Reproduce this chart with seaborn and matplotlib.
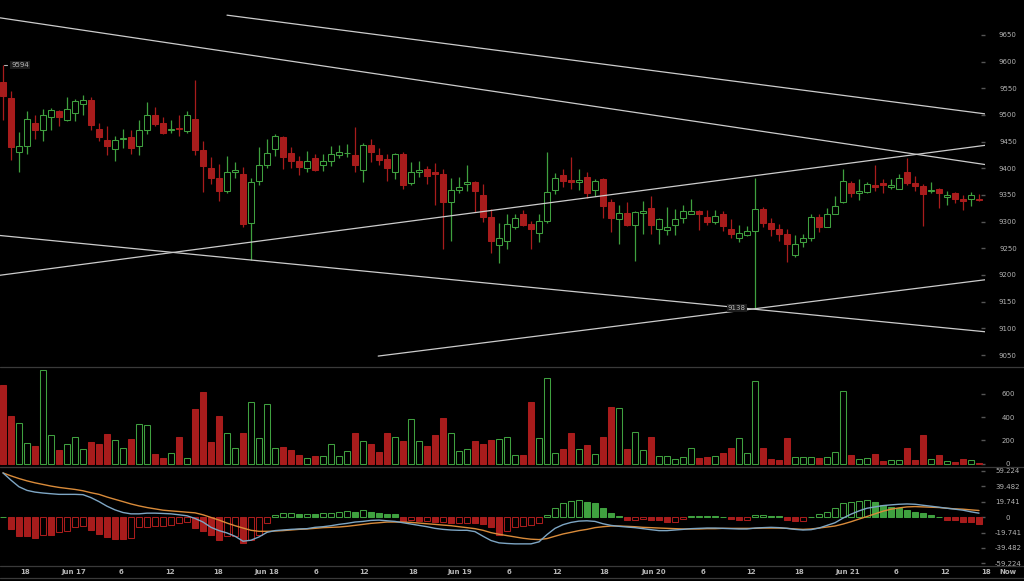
import numpy as np
import pandas as pd
import matplotlib
matplotlib.use("Agg")
import matplotlib.pyplot as plt
from matplotlib.lines import Line2D
from matplotlib.transforms import blended_transform_factory
import seaborn as sns

# hourly candles, Jun 16 15:00 -> Jun 21 17:00
opens = [9561, 9532, 9430, 9442, 9485, 9471, 9496, 9508, 9491, 9504,
         9520, 9528, 9474, 9453, 9437, 9455, 9459, 9441, 9471, 9499,
         9484, 9471, 9476, 9469, 9493, 9435, 9400, 9381, 9358, 9393,
         9390, 9298, 9376, 9406, 9437, 9459, 9428, 9413, 9400, 9419,
         9406, 9413, 9425, 9428, 9424, 9396, 9444, 9424, 9418, 9393,
         9426, 9372, 9393, 9398, 9393, 9390, 9337, 9359, 9371, 9374,
         9350, 9308, 9256, 9264, 9289, 9314, 9295, 9279, 9301, 9359,
         9388, 9378, 9374, 9383, 9359, 9380, 9337, 9304, 9317, 9293,
         9316, 9326, 9287, 9285, 9293, 9306, 9315, 9319, 9309, 9300,
         9314, 9287, 9270, 9274, 9282, 9323, 9297, 9287, 9277, 9237,
         9261, 9269, 9308, 9290, 9315, 9337, 9373, 9354, 9356, 9369,
         9372, 9365, 9362, 9393, 9372, 9367, 9357, 9362, 9347, 9354,
         9342, 9343, 9343]
highs = [9594, 9545, 9468, 9507, 9500, 9511, 9513, 9510, 9533, 9530,
         9538, 9534, 9484, 9480, 9461, 9474, 9472, 9491, 9525, 9514,
         9497, 9491, 9500, 9507, 9566, 9452, 9421, 9408, 9423, 9412,
         9402, 9382, 9439, 9454, 9464, 9461, 9439, 9423, 9433, 9426,
         9426, 9441, 9444, 9446, 9477, 9447, 9454, 9438, 9427, 9428,
         9430, 9412, 9414, 9405, 9410, 9399, 9382, 9383, 9407, 9376,
         9370, 9324, 9298, 9315, 9314, 9322, 9301, 9314, 9430, 9391,
         9398, 9421, 9398, 9393, 9380, 9382, 9343, 9332, 9337, 9320,
         9338, 9348, 9307, 9328, 9323, 9332, 9343, 9322, 9322, 9322,
         9320, 9304, 9293, 9291, 9382, 9328, 9307, 9295, 9286, 9275,
         9276, 9314, 9315, 9326, 9348, 9398, 9376, 9380, 9375, 9407,
         9379, 9379, 9390, 9420, 9385, 9370, 9374, 9363, 9357, 9356,
         9349, 9356, 9351]
lows = [9491, 9416, 9393, 9426, 9454, 9451, 9472, 9479, 9488, 9488,
        9500, 9472, 9451, 9424, 9413, 9438, 9426, 9424, 9465, 9479,
        9465, 9467, 9460, 9467, 9424, 9356, 9371, 9338, 9354, 9382,
        9290, 9229, 9368, 9401, 9423, 9399, 9401, 9388, 9393, 9394,
        9394, 9404, 9419, 9421, 9393, 9374, 9412, 9407, 9377, 9380,
        9362, 9368, 9384, 9371, 9331, 9248, 9264, 9354, 9357, 9318,
        9300, 9242, 9223, 9248, 9286, 9292, 9248, 9261, 9298, 9351,
        9365, 9362, 9360, 9345, 9348, 9307, 9280, 9259, 9292, 9226,
        9276, 9276, 9259, 9274, 9274, 9298, 9314, 9285, 9294, 9296,
        9282, 9270, 9261, 9273, 9138, 9290, 9273, 9264, 9224, 9234,
        9253, 9264, 9280, 9289, 9314, 9335, 9347, 9340, 9354, 9357,
        9354, 9362, 9362, 9368, 9357, 9292, 9353, 9325, 9331, 9335,
        9322, 9330, 9338]
closes = [9535, 9439, 9442, 9492, 9471, 9499, 9510, 9497, 9511, 9527,
          9528, 9481, 9459, 9441, 9453, 9457, 9438, 9472, 9499, 9483,
          9467, 9473, 9474, 9499, 9434, 9404, 9382, 9358, 9393, 9396,
          9295, 9375, 9406, 9428, 9460, 9421, 9413, 9402, 9414, 9396,
          9414, 9426, 9431, 9429, 9406, 9444, 9430, 9416, 9401, 9426,
          9368, 9393, 9396, 9385, 9390, 9337, 9360, 9365, 9374, 9357,
          9309, 9264, 9269, 9295, 9307, 9294, 9287, 9301, 9355, 9381,
          9376, 9374, 9378, 9353, 9376, 9330, 9307, 9317, 9293, 9318,
          9320, 9293, 9304, 9289, 9304, 9319, 9319, 9314, 9300, 9310,
          9292, 9277, 9278, 9282, 9323, 9297, 9287, 9276, 9259, 9259,
          9269, 9308, 9290, 9315, 9330, 9376, 9354, 9358, 9371, 9365,
          9369, 9368, 9382, 9373, 9367, 9352, 9359, 9353, 9349, 9342,
          9338, 9349, 9340]
volumes = [679, 406, 348, 180, 154, 803, 247, 116, 171, 229,
           125, 183, 171, 255, 203, 133, 209, 339, 331, 87,
           52, 90, 232, 49, 467, 615, 183, 409, 264, 139,
           261, 534, 220, 516, 139, 142, 119, 78, 49, 70,
           70, 165, 67, 113, 267, 194, 171, 104, 261, 226,
           191, 383, 194, 148, 249, 392, 264, 113, 128, 191,
           165, 206, 209, 226, 73, 73, 528, 223, 740, 90,
           122, 267, 128, 162, 81, 226, 487, 481, 128, 270,
           119, 232, 70, 70, 44, 55, 139, 52, 58, 64,
           90, 136, 220, 90, 710, 139, 41, 32, 217, 55,
           55, 55, 46, 61, 99, 626, 73, 44, 46, 84,
           20, 32, 35, 131, 32, 247, 44, 73, 23, 17,
           44, 32, 9]
macd_dif = [56.7, 47.4, 38.9, 34.3, 32.1, 30.9, 30.0, 29.2, 29.2, 29.2,
            28.8, 25.0, 19.9, 14.0, 9.3, 5.9, 4.2, 4.2, 5.1, 5.1,
            4.7, 4.2, 3.0, 1.7, -1.7, -6.3, -13.1, -17.3, -20.3, -24.5,
            -30.9, -29.6, -25.4, -19.5, -17.3, -16.5, -15.7, -15.2, -14.8, -13.1,
            -12.3, -11.0, -9.3, -8.0, -6.3, -5.5, -4.2, -3.8, -4.7, -5.5,
            -7.2, -8.9, -10.6, -12.3, -14.4, -15.7, -16.5, -16.9, -16.9, -18.6,
            -24.5, -30.0, -33.0, -33.8, -34.3, -34.3, -34.3, -31.7, -22.4, -14.4,
            -9.7, -6.8, -5.1, -4.7, -5.5, -8.5, -10.6, -11.8, -12.7, -13.5,
            -14.8, -16.1, -17.3, -17.3, -16.5, -15.7, -14.8, -14.4, -14.0, -14.0,
            -14.4, -14.8, -15.2, -15.2, -14.0, -13.5, -13.1, -13.5, -14.4, -15.7,
            -16.5, -16.1, -14.0, -10.6, -7.2, -1.3, 3.8, 8.0, 11.4, 13.1,
            14.8, 15.7, 16.5, 16.9, 16.5, 15.2, 14.0, 12.7, 11.4, 10.2,
            8.9, 6.8, 5.1]
macd_dea = [56.7, 52.9, 49.5, 46.5, 44.0, 41.9, 39.8, 38.1, 36.8, 35.5,
            33.8, 31.3, 29.2, 25.8, 22.8, 19.9, 16.9, 14.4, 12.3, 10.6,
            8.9, 8.0, 7.2, 6.3, 5.5, 3.0, -0.4, -3.8, -7.6, -11.0,
            -14.0, -16.9, -18.2, -18.2, -17.8, -17.3, -16.5, -15.7, -15.2, -14.4,
            -13.5, -13.1, -12.7, -11.8, -10.6, -9.3, -8.0, -7.2, -6.3, -6.3,
            -6.3, -6.8, -7.6, -8.5, -9.3, -10.2, -11.0, -12.3, -13.5, -14.8,
            -16.9, -19.9, -22.0, -23.7, -25.4, -27.1, -28.3, -28.8, -27.5, -24.5,
            -21.6, -19.5, -17.3, -15.7, -13.5, -12.3, -11.4, -11.4, -11.8, -12.3,
            -13.1, -13.5, -14.0, -14.4, -14.8, -15.2, -15.2, -15.2, -14.8, -14.8,
            -14.4, -14.4, -14.4, -14.4, -14.4, -14.0, -14.0, -14.0, -14.4, -15.2,
            -15.7, -15.2, -14.0, -12.7, -11.4, -8.9, -5.9, -2.5, 0.8, 4.2,
            7.6, 10.2, 11.8, 13.1, 13.5, 13.1, 12.7, 12.3, 11.4, 10.6,
            10.2, 9.3, 8.5]
macd_hist = [0.8, -15.2, -24.5, -24.5, -26.6, -22.4, -22.4, -19.5, -18.2, -13.1,
             -11.0, -16.1, -21.2, -25.8, -27.5, -28.0, -27.0, -13.1, -12.9, -11.8,
             -11.0, -9.7, -7.6, -6.3, -14.0, -18.2, -22.4, -28.8, -24.5, -24.3,
             -33.0, -28.8, -22.4, -7.6, 3.0, 4.7, 5.5, 4.2, 4.3, 4.2,
             4.7, 5.9, 7.2, 8.0, 7.2, 8.9, 7.2, 5.1, 4.2, 3.4,
             -4.7, -4.2, -5.5, -5.4, -6.3, -6.2, -7.6, -7.5, -7.4, -7.6,
             -8.9, -13.1, -22.4, -17.3, -13.1, -11.0, -9.7, -7.6, 3.0, 11.4,
             17.8, 20.7, 22.0, 19.0, 18.6, 11.4, 5.1, 1.7, -3.4, -3.3,
             -2.5, -3.4, -4.2, -6.3, -6.2, -2.1, 1.7, 2.0, 2.0, 1.9,
             0.8, -3.0, -3.4, -3.3, 2.1, 2.2, 1.7, 0.9, -3.4, -5.5,
             -4.7, 0.5, 3.8, 6.3, 12.3, 18.6, 19.9, 20.7, 22.0, 19.9,
             15.7, 13.5, 11.4, 9.3, 7.2, 4.7, 3.0, 0.8, -3.4, -4.2,
             -6.3, -6.8, -8.5]

price_ticks = [9050, 9100, 9150, 9200, 9250, 9300, 9350, 9400, 9450, 9500, 9550, 9600, 9650]
vol_ticks = [0, 200, 400, 600]
macd_ticks = [-59.224, -39.482, -19.741, 0, 19.741, 39.482, 59.224]
time_labels = ["18", "Jun 17", "6", "12", "18", "Jun 18", "6", "12", "18", "Jun 19", "6",
               "12", "18", "Jun 20", "6", "12", "18", "Jun 21", "6", "12", "18", "Now"]
time_pos = [2.75, 8.9, 14.75, 20.9, 26.9, 33.0, 39.1, 45.1, 51.25, 57.1, 63.25,
            69.25, 75.1, 81.4, 87.5, 93.5, 99.5, 105.6, 111.6, 117.75, 122.9, 125.6]

# hand drawn trend lines (candle index, price)
trend_lines = [
    ((28.0, 9687), (122.75, 9502)),
    ((-0.375, 9682), (122.75, 9407)),
    ((-0.375, 9199.5), (122.75, 9443)),
    ((-0.375, 9274), (122.75, 9093.6)),
    ((46.9, 9048), (122.75, 9191)),
]

BG = "#000000"
RED = "#a81c1c"
GREEN = "#3fa03f"
TXT = "#b4b4b4"
TICK = "#555555"
SEP = "#3a3a3a"
TREND = "#cccccc"
DIF_C = "#7ea6c4"
DEA_C = "#d98b3a"

sns.set_theme(style="dark", rc={"axes.facecolor": BG, "figure.facecolor": BG})
plt.rcParams["font.family"] = ["DejaVu Sans"]

W, H = 1024, 581
PLOT_R = 985
fig = plt.figure(figsize=(W / 100, H / 100), dpi=100)
fig.patch.set_facecolor(BG)


def panel(top, bottom):
    ax = fig.add_axes([0, 1 - bottom / H, PLOT_R / W, (bottom - top) / H])
    ax.set_facecolor(BG)
    for s in ax.spines.values():
        s.set_visible(False)
    ax.grid(False)
    ax.set_xlim(-0.375, 122.75)
    ax.set_xticks([])
    ax.yaxis.tick_right()
    ax.tick_params(axis="y", direction="in", length=3, width=1, color=TICK,
                   labelcolor=TXT, labelsize=5, pad=16.5)
    return ax


ax_p = panel(0, 366)
ax_v = panel(368, 466)
ax_m = panel(468, 565)

idx = np.arange(len(opens))
o = np.array(opens, dtype=float)
h = np.array(highs, dtype=float)
l = np.array(lows, dtype=float)
c = np.array(closes, dtype=float)
up = c >= o
line_col = np.where(up, GREEN, RED).tolist()
fill_col = np.where(up, BG, RED).tolist()

# 1. price candles
ax_p.vlines(idx, l, h, colors=line_col, linewidth=0.9, zorder=2)
ax_p.bar(idx, np.maximum(np.abs(c - o), 1.5), bottom=np.minimum(o, c), width=0.78,
         color=fill_col, edgecolor=line_col, linewidth=0.75, zorder=3)
for (x0, y0), (x1, y1) in trend_lines:
    ax_p.plot([x0, x1], [y0, y1], color=TREND, linewidth=0.9, zorder=4)

hi_i = int(np.argmax(h))
lo_i = int(np.argmin(l))
ax_p.plot([hi_i + 0.1, hi_i + 0.5], [h[hi_i]] * 2, color=TXT, linewidth=0.8)
ax_p.annotate(f"{h[hi_i]:.0f}", xy=(hi_i, h[hi_i]), xytext=(5.8, 0), textcoords="offset points",
              ha="left", va="center", fontsize=5, color=TXT,
              bbox=dict(facecolor="#1c1c1c", edgecolor="none", pad=0.6))
ax_p.annotate(f"{l[lo_i]:.0f}", xy=(lo_i, l[lo_i]), xytext=(-6.5, 0), textcoords="offset points",
              ha="right", va="center", fontsize=5, color=TXT, zorder=5,
              bbox=dict(facecolor="#1c1c1c", edgecolor="none", pad=0.6))
ax_p.set_ylim(9029.4, 9715.4)
ax_p.set_yticks(price_ticks)
ax_p.set_yticklabels([str(t) for t in price_ticks], ha="center")

# 2. volume
ax_v.bar(idx, volumes, width=0.78, color=fill_col, edgecolor=line_col, linewidth=0.75)
ax_v.set_ylim(-20, 823)
ax_v.set_yticks(vol_ticks)
ax_v.set_yticklabels([str(t) for t in vol_ticks], ha="center")

# 3. MACD
hist = np.array(macd_hist)
prev = np.r_[hist[0] - 1, hist[:-1]]
h_col = np.where(hist >= 0, GREEN, RED)
h_fill = np.where(hist > prev, BG, h_col)
ax_m.bar(idx, hist, width=0.78, color=h_fill.tolist(), edgecolor=h_col.tolist(), linewidth=0.75)
macd_df = pd.DataFrame({"idx": idx, "dif": macd_dif, "dea": macd_dea})
sns.lineplot(data=macd_df, x="idx", y="dea", ax=ax_m, color=DEA_C, linewidth=1.0)
sns.lineplot(data=macd_df, x="idx", y="dif", ax=ax_m, color=DIF_C, linewidth=1.0)
ax_m.set_xlabel("")
ax_m.set_ylabel("")
ax_m.set_xlim(-0.375, 122.75)
ax_m.set_xticks([])
ax_m.set_ylim(-61.4, 63.0)
ax_m.set_yticks(macd_ticks)
ax_m.set_yticklabels([f"{t:g}" if t == 0 else f"{t:.3f}" for t in macd_ticks], ha="center")

trans = blended_transform_factory(ax_m.transData, fig.transFigure)
for pos, lbl in zip(time_pos, time_labels):
    ax_m.text(pos, 1 - 572 / H, lbl, transform=trans, ha="center", va="center",
              fontsize=5, color=TXT, fontweight="bold", clip_on=False)

for yy in (367, 467, 566, 578):
    fig.add_artist(Line2D([0, 1], [1 - yy / H] * 2, transform=fig.transFigure,
                          color=SEP, linewidth=0.9))

fig.savefig("out.png", dpi=100, facecolor=BG)
